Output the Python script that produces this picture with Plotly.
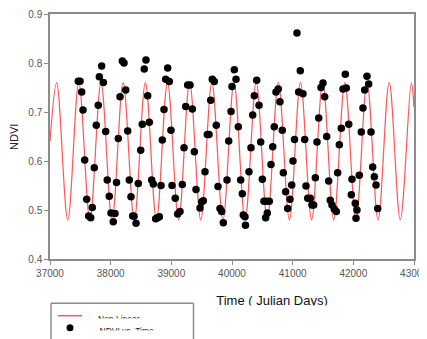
import plotly.graph_objects as go

# ---- data ----
obs_time = [37466, 37495, 37522, 37544, 37572, 37605, 37638, 37671, 37697, 37730,
            37763, 37796, 37813, 37852, 37879, 37918, 37944, 37977, 38005, 38043,
            38071, 38096, 38126, 38154, 38192, 38220, 38248, 38281, 38307, 38335,
            38363, 38385, 38418, 38455, 38495, 38521, 38554, 38582, 38610, 38637,
            38676, 38703, 38742, 38772, 38802, 38830, 38851, 38879, 38907, 38940,
            38966, 38994, 39011, 39065, 39105, 39143, 39181, 39209, 39237, 39270,
            39308, 39346, 39379, 39407, 39473, 39501, 39527, 39555, 39593, 39621,
            39649, 39675, 39708, 39741, 39769, 39802, 39830, 39857, 39918, 39946,
            39984, 40000, 40038, 40066, 40104, 40143, 40170, 40186, 40214, 40222,
            40280, 40313, 40341, 40368, 40407, 40445, 40473, 40500, 40527, 40555,
            40571, 40582, 40615, 40643, 40671, 40697, 40725, 40763, 40791, 40829,
            40846, 40885, 40918, 40956, 40984, 41005, 41030, 41071, 41099, 41126,
            41170, 41198, 41220, 41248, 41291, 41319, 41346, 41374, 41401, 41429,
            41467, 41500, 41528, 41561, 41594, 41620, 41648, 41686, 41719, 41742,
            41769, 41802, 41830, 41868, 41884, 41924, 41967, 41978, 42032, 42044,
            42060, 42098, 42131, 42159, 42187, 42225, 42253, 42291, 42319, 42346,
            42374, 42402]
obs_ndvi = [0.763, 0.763, 0.741, 0.704, 0.602, 0.522, 0.488, 0.484, 0.505, 0.586,
            0.673, 0.714, 0.772, 0.794, 0.760, 0.660, 0.561, 0.528, 0.494, 0.476,
            0.493, 0.556, 0.646, 0.731, 0.804, 0.800, 0.745, 0.661, 0.561, 0.527,
            0.488, 0.487, 0.473, 0.554, 0.622, 0.675, 0.788, 0.806, 0.733, 0.679,
            0.561, 0.553, 0.482, 0.484, 0.486, 0.550, 0.643, 0.705, 0.767, 0.790,
            0.762, 0.663, 0.550, 0.524, 0.492, 0.497, 0.552, 0.627, 0.711, 0.755,
            0.755, 0.706, 0.619, 0.542, 0.504, 0.517, 0.519, 0.578, 0.654, 0.654,
            0.724, 0.767, 0.762, 0.673, 0.548, 0.503, 0.497, 0.474, 0.561, 0.641,
            0.701, 0.752, 0.786, 0.767, 0.670, 0.561, 0.533, 0.490, 0.486, 0.469,
            0.578, 0.627, 0.694, 0.733, 0.765, 0.714, 0.639, 0.563, 0.518, 0.484,
            0.518, 0.494, 0.518, 0.593, 0.629, 0.670, 0.741, 0.747, 0.721, 0.663,
            0.576, 0.537, 0.503, 0.522, 0.551, 0.600, 0.644, 0.861, 0.741, 0.784,
            0.737, 0.644, 0.549, 0.524, 0.524, 0.510, 0.510, 0.566, 0.639, 0.688,
            0.750, 0.759, 0.731, 0.650, 0.559, 0.520, 0.510, 0.502, 0.497, 0.576,
            0.633, 0.667, 0.747, 0.777, 0.749, 0.675, 0.531, 0.563, 0.514, 0.483,
            0.500, 0.571, 0.659, 0.708, 0.745, 0.773, 0.757, 0.659, 0.588, 0.568,
            0.551, 0.503]

# fitted (non linear) curve: vertices at its start, alternating peaks/troughs, end
fit_time = [37000, 37110, 37293, 37475, 37658, 37841, 38023, 38206, 38389, 38572,
            38754, 38937, 39120, 39302, 39485, 39668, 39851, 40033, 40216, 40399,
            40581, 40764, 40947, 41129, 41312, 41495, 41677, 41860, 42043, 42226,
            42408, 42591, 42774, 42956, 43000]
fit_ndvi = [0.64, 0.76, 0.48, 0.76, 0.48, 0.76, 0.48, 0.76, 0.48, 0.76,
            0.48, 0.76, 0.48, 0.76, 0.48, 0.76, 0.48, 0.76, 0.48, 0.76,
            0.48, 0.76, 0.48, 0.76, 0.48, 0.76, 0.48, 0.76, 0.48, 0.76,
            0.48, 0.76, 0.48, 0.76, 0.71]

x_ticks = [37000, 38000, 39000, 40000, 41000, 42000, 43000]
y_ticks = [0.4, 0.5, 0.6, 0.7, 0.8, 0.9]

# figure is placed at (8, 8) on the page (default body margin); sizes in figure px
OFF = 8
W, H = 440, 339
AX = "#8c8c8c"
TICKFONT = dict(family="Liberation Sans, Arial", size=10, color="#555555")


def fx(px):  # screen px -> paper fraction (x)
    return (px - OFF) / W


def fy(py):  # screen px -> paper fraction (y)
    return (H - (py - OFF)) / H


fig = go.Figure()
fig.add_trace(go.Scatter(x=fit_time, y=fit_ndvi, mode="lines",
                         line=dict(color="#ff5555", width=1.2, shape="spline", smoothing=1.0),
                         name="Non Linear", showlegend=False, hoverinfo="skip",
                         xaxis="x", yaxis="y"))
fig.add_trace(go.Scatter(x=obs_time, y=obs_ndvi, mode="markers",
                         marker=dict(color="black", size=7.5),
                         name="NDVI vs. Time", showlegend=False,
                         xaxis="x", yaxis="y"))

# screen-pixel overlay subplot for the (clipped) legend and x title
fig.add_trace(go.Scatter(x=[272, 98, 99.5], y=[302, 319.5, 331.5],
                         text=["Time ( Julian Days)", "Non Linear", "NDVI vs. Time"],
                         mode="text", textposition=["middle center", "middle right", "middle right"],
                         textfont=dict(family="Liberation Sans, Arial",
                                       size=[13, 8.5, 8.5], color=["#111111", "#222222", "#222222"]),
                         xaxis="x2", yaxis="y2", showlegend=False, hoverinfo="skip",
                         cliponaxis=False))

shapes = [
    dict(type="rect", xref="x2", yref="y2", x0=200, x1=345, y0=305.5, y1=320,
         fillcolor="white", line=dict(width=0), layer="above"),
    dict(type="rect", xref="x2", yref="y2", x0=94, x1=170, y0=318.5, y1=326,
         fillcolor="white", line=dict(width=0), layer="above"),
    dict(type="rect", xref="x2", yref="y2", x0=94, x1=170, y0=330.5, y1=350,
         fillcolor="white", line=dict(width=0), layer="above"),
    dict(type="line", xref="x2", yref="y2", x0=51, x1=193.5, y0=303.3, y1=303.3,
         line=dict(color=AX, width=1.5), layer="above"),
    dict(type="line", xref="x2", yref="y2", x0=51, x1=51, y0=303.3, y1=350,
         line=dict(color=AX, width=1.5), layer="above"),
    dict(type="line", xref="x2", yref="y2", x0=193.5, x1=193.5, y0=303.3, y1=350,
         line=dict(color=AX, width=1.5), layer="above"),
    dict(type="line", xref="x2", yref="y2", x0=58, x1=82, y0=315.7, y1=315.7,
         line=dict(color="#ff5555", width=1.5), layer="above"),
    dict(type="circle", xref="x2", yref="y2", x0=66.5, x1=73.5, y0=324.3, y1=331.3,
         fillcolor="black", line=dict(color="black", width=0), layer="above"),
]

fig.update_layout(
    width=W, height=H, autosize=False,
    margin=dict(l=0, r=0, t=0, b=0, autoexpand=False),
    paper_bgcolor="white", plot_bgcolor="rgba(0,0,0,0)",
    showlegend=False,
    xaxis=dict(domain=[fx(50), fx(414)], range=[37000, 43000], anchor="y",
               tickvals=x_ticks, tickformat="d",
               ticks="outside", ticklen=4, tickcolor=AX, tickwidth=1,
               showline=True, linecolor=AX, linewidth=1.5, mirror=True,
               showgrid=False, zeroline=False, tickfont=TICKFONT),
    yaxis=dict(domain=[fy(259), fy(14)], range=[0.4, 0.9], anchor="x",
               tickvals=y_ticks, tickformat=".1f",
               ticks="outside", ticklen=4, tickcolor=AX, tickwidth=1,
               showline=True, linecolor=AX, linewidth=1.5, mirror=True,
               showgrid=False, zeroline=False, tickfont=TICKFONT),
    xaxis2=dict(domain=[0, 1], range=[OFF, W + OFF], anchor="y2", visible=False,
                fixedrange=True, showgrid=False, zeroline=False),
    yaxis2=dict(domain=[0, 1], range=[H + OFF, OFF], anchor="x2", visible=False,
                fixedrange=True, showgrid=False, zeroline=False),
    shapes=shapes,
    annotations=[dict(text="NDVI", xref="paper", yref="paper", x=fx(14), y=fy(137),
                      textangle=-90, showarrow=False, xanchor="center", yanchor="middle",
                      font=dict(family="Liberation Sans, Arial", size=11, color="#222222"))],
)

fig.write_html("out.html")
